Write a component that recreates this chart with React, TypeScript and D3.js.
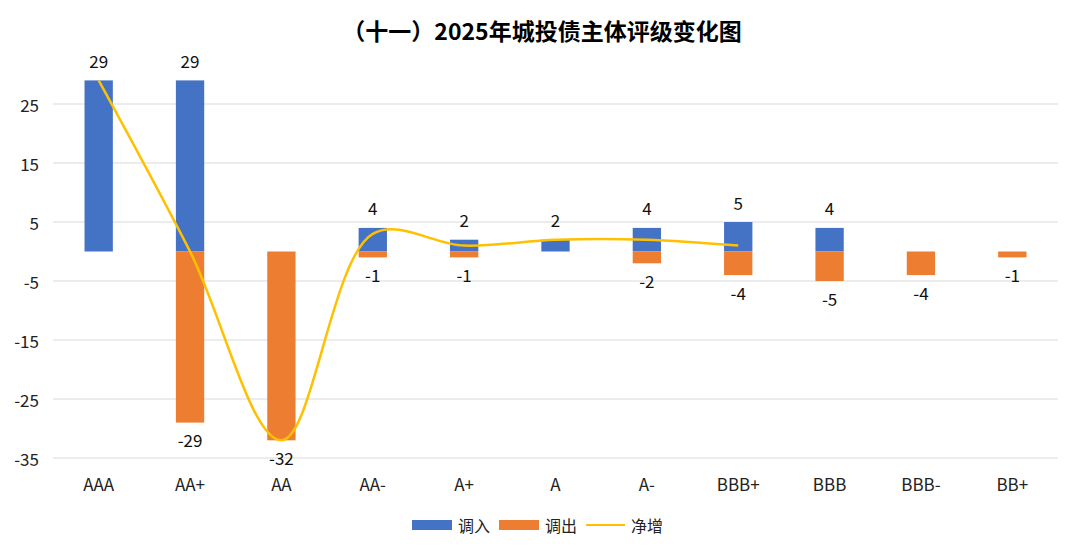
import React from "react"
import * as d3 from "d3"

// 评级档位
const ratings = ["AAA", "AA+", "AA", "AA-", "A+", "A", "A-", "BBB+", "BBB", "BBB-", "BB+"]
// 调入 / 调出 家数
const inflow = [29, 29, 0, 4, 2, 2, 4, 5, 4, 0, 0]
const outflow = [0, -29, -32, -1, -1, 0, -2, -4, -5, -4, -1]
// 净增（只画到 BBB+）
const netGain = [29, 0, -32, 3, 1, 2, 2, 1]
const yTicks = [25, 15, 5, -5, -15, -25, -35]

const W = 1080
const H = 557
const FONT = "'Noto Sans CJK SC', 'Noto Sans', sans-serif"
const BLUE = "#4472C4"
const ORANGE = "#ED7D31"
const GOLD = "#FFC000"

export default function App() {
  const margin = { top: 74.5, right: 22, bottom: 99, left: 53 }

  const x = d3
    .scaleBand<string>()
    .domain(ratings)
    .range([margin.left, W - margin.right])
    .padding(0)

  const y = d3
    .scaleLinear()
    .domain([-35, 30])
    .range([H - margin.bottom, margin.top])

  const barW = x.bandwidth() * 0.31
  const cx = (r: string) => (x(r) as number) + x.bandwidth() / 2

  const line = d3
    .line<number>()
    .x((_, i) => cx(ratings[i]))
    .y(d => y(d))
    .curve(d3.curveCatmullRom.alpha(0.5))

  const legendY = 525

  return (
    <svg
      width={W}
      height={H}
      style={{ position: "absolute", left: 0, top: 0, background: "#fff" }}
      fontFamily={FONT}
    >
      <text
        x={542}
        y={30}
        textAnchor="middle"
        dominantBaseline="central"
        fontSize={23}
        fontWeight="bold"
        fill="#000"
      >
        （十一）2025年城投债主体评级变化图
      </text>

      {yTicks.map(t => (
        <g key={t}>
          <line
            x1={margin.left}
            x2={W - margin.right}
            y1={y(t)}
            y2={y(t)}
            stroke="#D9D9D9"
            strokeWidth={1}
          />
          <text
            x={39}
            y={y(t)}
            textAnchor="end"
            dominantBaseline="central"
            fontSize={17}
            fill="#222"
          >
            {t}
          </text>
        </g>
      ))}

      {ratings.map((r, i) => (
        <g key={r}>
          {inflow[i] !== 0 && (
            <rect
              x={cx(r) - barW / 2}
              y={y(inflow[i])}
              width={barW}
              height={y(0) - y(inflow[i])}
              fill={BLUE}
            />
          )}
          {outflow[i] !== 0 && (
            <rect
              x={cx(r) - barW / 2}
              y={y(0)}
              width={barW}
              height={y(outflow[i]) - y(0)}
              fill={ORANGE}
            />
          )}
          <text
            x={cx(r)}
            y={483}
            textAnchor="middle"
            dominantBaseline="central"
            fontSize={17}
            fill="#222"
          >
            {r}
          </text>
        </g>
      ))}

      <path d={line(netGain) || ""} fill="none" stroke={GOLD} strokeWidth={2.5} />

      {ratings.map((r, i) => (
        <g key={"lbl" + r} fontSize={17} fill="#111" textAnchor="middle">
          {inflow[i] !== 0 && (
            <text x={cx(r)} y={y(inflow[i]) - 20} dominantBaseline="central">
              {inflow[i]}
            </text>
          )}
          {outflow[i] !== 0 && (
            <text x={cx(r)} y={y(outflow[i]) + 17} dominantBaseline="central">
              {outflow[i]}
            </text>
          )}
        </g>
      ))}

      <g fontSize={16} fill="#222">
        <rect x={412} y={legendY - 5} width={40} height={10} fill={BLUE} />
        <text x={458} y={legendY} dominantBaseline="central">调入</text>
        <rect x={499} y={legendY - 5} width={40} height={10} fill={ORANGE} />
        <text x={545} y={legendY} dominantBaseline="central">调出</text>
        <line x1={586} x2={625} y1={legendY} y2={legendY} stroke={GOLD} strokeWidth={2} />
        <text x={631} y={legendY} dominantBaseline="central">净增</text>
      </g>
    </svg>
  )
}
